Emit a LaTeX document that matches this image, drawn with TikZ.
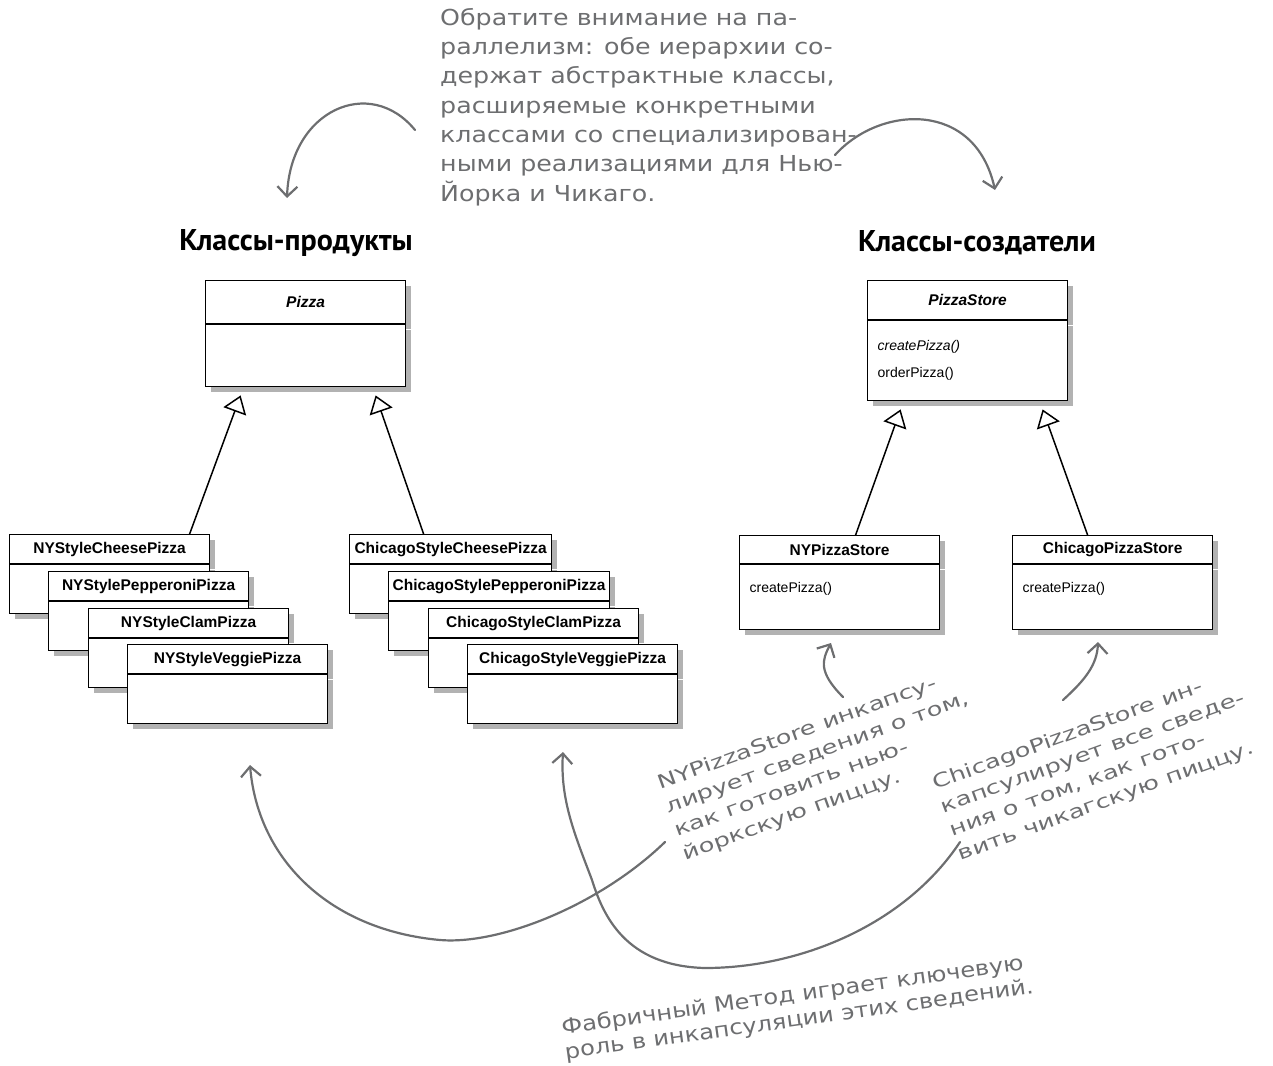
\documentclass[tikz,border=0pt]{standalone}
\usepackage{fontspec}
\setmainfont{Liberation Sans}
\newfontfamily\handfont{DejaVu Sans}[FakeStretch=1.15]
\newfontfamily\slantfont{DejaVu Sans}[FakeStretch=1.35]
\newfontfamily\headfont{PT Sans}
\usepackage{tikz}
\usetikzlibrary{arrows.meta, positioning, shadows, calc}
\definecolor{pencil}{HTML}{6D6E70}

\begin{document}
\begin{tikzpicture}[x=1pt, y=-1pt,
  hdr/.style={draw, line width=1.2pt, fill=white, anchor=north west, inner sep=0pt,
              font=\fontsize{15.5}{18}\selectfont\bfseries,
              minimum width=200pt, minimum height=29pt,
              drop shadow={shadow xshift=5pt, shadow yshift=-5pt, fill=black, opacity=.3}},
  bdy/.style={hdr, minimum height=49pt, font=\fontsize{14}{27}\selectfont,
              align=left, text width=180pt, inner xsep=10pt},
  inh/.style={-{Triangle[length=17pt, width=24pt, fill=white]}, line width=1.5pt},
  remark/.style={draw=pencil, line width=2.2pt, line cap=round,
                 -{Straight Barb[length=10pt, width=20pt]}},
  scribble/.style={text=pencil, align=left, anchor=north west, inner sep=0pt,
                   font=\slantfont\fontsize{19}{25}\selectfont},
  head/.style={font=\headfont\bfseries\fontsize{30}{34}\selectfont}
]
  \useasboundingbox (0,0) rectangle (1273,1065);

  \node[head] (prodt) at (296,243) {Классы-продукты};
  \node[head] (creat) at (977,243) {Классы-создатели};

  % products
  \node[hdr, minimum height=43pt, font=\fontsize{15.5}{18}\selectfont\bfseries\itshape] (pzh) at (205,280) {Pizza};
  \node[bdy, minimum height=62pt] (pzb) at (pzh.south west) {};

  \node[hdr] (ny1h) at (9,534) {NYStyleCheesePizza};
  \node[bdy] (ny1b) at (ny1h.south west) {};
  \node[hdr] (ny2h) at (48,571) {NYStylePepperoniPizza};
  \node[bdy] (ny2b) at (ny2h.south west) {};
  \node[hdr] (ny3h) at (88,608) {NYStyleClamPizza};
  \node[bdy] (ny3b) at (ny3h.south west) {};
  \node[hdr] (ny4h) at (127,644) {NYStyleVeggiePizza};
  \node[bdy] (ny4b) at (ny4h.south west) {};

  \node[hdr, minimum width=202pt] (ch1h) at (349,534) {ChicagoStyleCheesePizza};
  \node[bdy, text width=182pt] (ch1b) at (ch1h.south west) {};
  \node[hdr, minimum width=221pt] (ch2h) at (388,571) {ChicagoStylePepperoniPizza};
  \node[bdy, text width=201pt] (ch2b) at (ch2h.south west) {};
  \node[hdr, minimum width=210pt] (ch3h) at (428,608) {ChicagoStyleClamPizza};
  \node[bdy, text width=190pt] (ch3b) at (ch3h.south west) {};
  \node[hdr, minimum width=210pt] (ch4h) at (467,644) {ChicagoStyleVeggiePizza};
  \node[bdy, text width=190pt] (ch4b) at (ch4h.south west) {};

  % creators
  \node[hdr, minimum height=39pt, font=\fontsize{15.5}{18}\selectfont\bfseries\itshape] (psh) at (867,280) {PizzaStore};
  \node[bdy, minimum height=80pt] (psb) at (psh.south west) {\textit{createPizza()}\\orderPizza()};
  \node[hdr, minimum height=28pt] (nysh) at (739,535) {NYPizzaStore};
  \node[bdy, minimum height=65pt] (nysb) at (nysh.south west) {createPizza()\\[-8pt]\mbox{}};
  \node[hdr, minimum height=28pt] (chsh) at (1012,535) {ChicagoPizzaStore};
  \node[bdy, minimum height=65pt] (chsb) at (chsh.south west) {createPizza()\\[-8pt]\mbox{}};

  \draw[inh] ([xshift=80pt]ny1h.north) -- ([xshift=-65pt, yshift=-8pt]pzb.south);
  \draw[inh] ([xshift=-27pt]ch1h.north) -- ([xshift=70pt, yshift=-8pt]pzb.south);
  \draw[inh] ([xshift=16pt]nysh.north) -- ([xshift=-67pt, yshift=-8pt]psb.south);
  \draw[inh] ([xshift=-25pt]chsh.north) -- ([xshift=75pt, yshift=-8pt]psb.south);

  % notes
  \node[scribble, font=\handfont\fontsize{22}{29.3}\selectfont] (par) at (440,8)
    {Обратите внимание на па-\\раллелизм: обе иерархии со-\\держат абстрактные классы,\\расширяемые конкретными\\классами со специализирован-\\ными реализациями для Нью-\\Йорка и Чикаго.};
  \node[scribble, rotate=20] (nynote) at (655,776)
    {NYPizzaStore инкапсу-\\лирует сведения о том,\\как готовить нью-\\йоркскую пиццу.};
  \node[scribble, rotate=20] (chnote) at (930,776)
    {ChicagoPizzaStore ин-\\капсулирует все сведе-\\ния о том, как гото-\\вить чикагскую пиццу.};
  \node[scribble, rotate=8, font=\handfont\fontsize{21}{25}\selectfont] (fmnote) at (560,1018)
    {Фабричный Метод играет ключевую\\роль в инкапсуляции этих сведений.};

  \coordinate (pl0) at (415,130);  \coordinate (pl1) at (287,198);
  \coordinate (pr0) at (835,155);  \coordinate (pr1) at (995,190);
  \coordinate (ny0) at (843,697);  \coordinate (ny1) at (831,643);
  \coordinate (cs0) at (1063,700); \coordinate (cs1) at (1098,642);
  \coordinate (fa0) at (665,842);  \coordinate (fa1) at (250,765);
  \coordinate (fb0) at (960,842);  \coordinate (fb1) at (563,752);

  \draw[remark] (pl0) .. controls (370,75) and (290,110) .. (pl1);
  \draw[remark] (pr0) .. controls (880,105) and (975,100) .. (pr1);
  \draw[remark] (ny0) .. controls (818,672) and (822,660) .. (ny1);
  \draw[remark] (cs0) .. controls (1085,680) and (1097,665) .. (cs1);
  \draw[remark] (fa0) .. controls (600,905) and (500,945) .. (440,940)
                      .. controls (330,930) and (258,860) .. (fa1);
  \draw[remark] (fb0) .. controls (905,925) and (800,968) .. (705,968)
                      .. controls (625,966) and (603,915) .. (592,880)
                      .. controls (575,835) and (560,800) .. (fb1);
\end{tikzpicture}
\end{document}
